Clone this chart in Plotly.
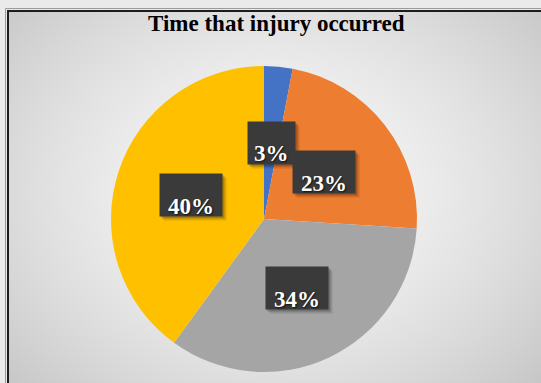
import base64
import math
import struct
import zlib

import numpy as np
import plotly.graph_objects as go

# ---- data -------------------------------------------------------------
categories = ["Period 1", "Period 2", "Period 3", "Period 4"]
shares = [3, 23, 34, 40]
slice_colors = ["#4472C4", "#ED7D31", "#A5A5A5", "#FFC000"]
title_text = "Time that injury occurred"

# ---- canvas geometry (pixels) -----------------------------------------
W, H = 541, 383
CX, CY, R = 264, 219, 153          # pie centre (from top-left) and radius
LABEL_RADIUS = 0.5                 # fraction of radius for the label boxes


def png_data_uri(rgb):
    """Encode an (h, w, 3) uint8 array as a PNG data URI."""
    h, w, _ = rgb.shape
    raw = b"".join(b"\x00" + rgb[i].tobytes() for i in range(h))

    def chunk(tag, data):
        c = struct.pack(">I", len(data)) + tag + data
        return c + struct.pack(">I", zlib.crc32(tag + data) & 0xFFFFFFFF)

    png = b"\x89PNG\r\n\x1a\n"
    png += chunk(b"IHDR", struct.pack(">IIBBBBB", w, h, 8, 2, 0, 0, 0))
    png += chunk(b"IDAT", zlib.compress(raw, 9))
    png += chunk(b"IEND", b"")
    return "data:image/png;base64," + base64.b64encode(png).decode()


# radial grey background of the chart area
yy, xx = np.mgrid[0:H, 0:W].astype(float)
d = np.sqrt(((xx - 272) / 330.0) ** 2 + ((yy - 190) / 260.0) ** 2)
d = np.clip(d, 0, 1.2)
grey = 248 - 42 * d ** 1.6
grey[(xx < 7) | (yy < 10)] = 234
bg = np.repeat(np.clip(grey, 0, 255).astype(np.uint8)[:, :, None], 3, axis=2)

fig = go.Figure()
fig.add_trace(
    go.Pie(
        labels=categories,
        values=shares,
        marker=dict(colors=slice_colors, line=dict(width=0)),
        sort=False,
        direction="clockwise",
        rotation=0,
        textinfo="none",
        showlegend=False,
        domain=dict(
            x=[(CX - R) / W, (CX + R) / W],
            y=[(H - CY - R) / H, (H - CY + R) / H],
        ),
    )
)

# ---- data labels in dark boxes ----------------------------------------
total = float(sum(shares))
start = 0.0
annotations = []
for value in shares:
    frac = value / total
    mid = (start + frac / 2) * 2 * math.pi
    start += frac
    px = CX + LABEL_RADIUS * R * math.sin(mid)
    py = CY - LABEL_RADIUS * R * math.cos(mid)
    ax, ay = px / W, 1 - py / H
    text = f"{round(value)}%"
    box_w = 18 + 14.5 * len(text)
    box_h = 42
    common = dict(xref="paper", yref="paper", x=ax, y=ay, showarrow=False,
                  xanchor="center", yanchor="middle", borderpad=0,
                  width=box_w, height=box_h, text=" ")
    # soft drop shadow
    annotations.append(dict(common, bgcolor="rgba(0,0,0,0.12)", xshift=4, yshift=-4))
    annotations.append(dict(common, bgcolor="rgba(0,0,0,0.22)", xshift=2, yshift=-2))
    annotations.append(dict(common, bgcolor="#3a3a3a"))
    annotations.append(dict(
        xref="paper", yref="paper", x=ax, y=ay, showarrow=False,
        xanchor="center", yanchor="middle", yshift=-11,
        text=f"<b>{text}</b>",
        font=dict(family="Liberation Serif", size=23, color="white",
                  shadow="1px 1px 2px rgba(0,0,0,0.7)"),
    ))

annotations.append(dict(
    xref="paper", yref="paper", x=276 / W, y=1 - 24 / H, showarrow=False,
    xanchor="center", yanchor="middle",
    text=f"<b>{title_text}</b>",
    font=dict(family="Liberation Serif", size=23, color="black"),
))

fig.update_layout(
    width=W,
    height=H,
    margin=dict(l=0, r=0, t=0, b=0),
    paper_bgcolor="#eaeaea",
    plot_bgcolor="rgba(0,0,0,0)",
    images=[dict(source=png_data_uri(bg), xref="paper", yref="paper",
                 x=0, y=1, sizex=1, sizey=1, sizing="stretch",
                 xanchor="left", yanchor="top", layer="below")],
    shapes=[
        dict(type="rect", xref="paper", yref="paper",
             x0=5.5 / W, x1=1.05, y0=-0.05, y1=1 - 8.5 / H,
             line=dict(color="#9a9a9a", width=1)),
        dict(type="rect", xref="paper", yref="paper",
             x0=8 / W, x1=1.05, y0=-0.05, y1=1 - 11 / H,
             line=dict(color="#1c1c1c", width=2)),
    ],
    annotations=annotations,
    xaxis=dict(visible=False),
    yaxis=dict(visible=False),
)

fig.write_html("out.html")
